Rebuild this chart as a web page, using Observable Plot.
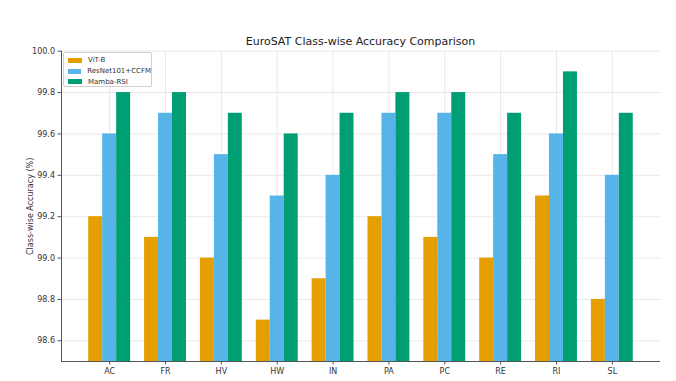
<!DOCTYPE html>
<html>
<head>
<meta charset="utf-8">
<script src="https://cdn.jsdelivr.net/npm/d3@7"></script>
<script src="https://cdn.jsdelivr.net/npm/@observablehq/plot@0.6"></script>
<style>
  html, body { margin: 0; padding: 0; background: #fff; }
  #wrap { position: relative; width: 676px; height: 381px; font-family: "DejaVu Sans", sans-serif; color: #222; }
  #title { box-sizing: border-box; height: 48px; padding-top: 35px; padding-left: 61px; width: 660px; text-align: center; font-size: 11px; line-height: 13px; white-space: nowrap; }
  #chart svg { overflow: visible; display: block; }
  #legend { position: absolute; left: 63px; top: 52px; width: 89px; height: 35px; box-sizing: border-box; border: 0.8px solid #d0d0d0; border-radius: 2px; background: rgba(255,255,255,0.85); padding: 2px 0 0 4px; font-size: 7px; color: #333; }
  .row { display: flex; align-items: center; height: 10.7px; }
  .sw { width: 14px; height: 5px; margin-right: 6px; }
</style>
</head>
<body>
<div id="wrap">
  <div id="title">EuroSAT Class-wise Accuracy Comparison</div>
  <div id="chart"></div>
  <div id="legend"></div>
</div>
<script>
const categories = ["AC", "FR", "HV", "HW", "IN", "PA", "PC", "RE", "RI", "SL"];
const seriesNames = ["ViT-B", "ResNet101+CCFM", "Mamba-RSI"];
const vitB   = [99.2, 99.1, 99.0, 98.7, 98.9, 99.2, 99.1, 99.0, 99.3, 98.8];
const resnet = [99.6, 99.7, 99.5, 99.3, 99.4, 99.7, 99.7, 99.5, 99.6, 99.4];
const mamba  = [99.8, 99.8, 99.7, 99.6, 99.7, 99.8, 99.8, 99.7, 99.9, 99.7];
const colors = ["#E69F00", "#56B4E9", "#009E73"];
const yTicks = [98.6, 98.8, 99.0, 99.2, 99.4, 99.6, 99.8, 100.0];

const seriesValues = [vitB, resnet, mamba];
const barW = 0.25;
const yMin = 98.5, yMax = 100.0;
const xMin = -0.8625, xMax = categories.length - 1 + 0.8625;

const rows = [];
categories.forEach((c, i) => {
  seriesNames.forEach((s, j) => {
    rows.push({i, cat: c, series: s, j, value: seriesValues[j][i]});
  });
});

const chart = Plot.plot({
  width: 676,
  height: 333,
  marginLeft: 61,
  marginRight: 16,
  marginTop: 2.7,
  marginBottom: 20,
  style: {fontFamily: "DejaVu Sans", fontSize: "8px", color: "#333", background: "white", overflow: "visible"},
  x: {domain: [xMin, xMax]},
  y: {domain: [yMin, yMax]},
  color: {domain: seriesNames, range: colors},
  marks: [
    Plot.gridY(yTicks, {stroke: "#e3e3e3", strokeOpacity: 1, strokeWidth: 0.8}),
    Plot.gridX(d3.range(categories.length), {stroke: "#e3e3e3", strokeOpacity: 1, strokeWidth: 0.8}),
    Plot.rectY(rows, {
      x1: d => d.i + (d.j - 1) * barW - barW / 2,
      x2: d => d.i + (d.j - 1) * barW + barW / 2,
      y1: d => yMin,
      y2: "value",
      fill: "series"
    }),
    Plot.ruleX([xMin], {stroke: "#555", strokeWidth: 1}),
    Plot.ruleY([yMin], {stroke: "#555", strokeWidth: 1}),
    Plot.axisX(d3.range(categories.length), {tickFormat: i => categories[i], tickSize: 3.5, tickPadding: 3, label: null, stroke: "#555"}),
    Plot.axisY(yTicks, {tickFormat: d => d.toFixed(1), tickSize: 3.5, tickPadding: 3, stroke: "#555",
      label: "Class-wise Accuracy (%)", labelAnchor: "center", labelArrow: "none", labelOffset: 34})
  ]
});
document.getElementById("chart").appendChild(chart);

const legend = document.getElementById("legend");
seriesNames.forEach((s, j) => {
  const r = document.createElement("div");
  r.className = "row";
  const sw = document.createElement("span");
  sw.className = "sw";
  sw.style.background = colors[j];
  const t = document.createElement("span");
  t.textContent = s;
  r.appendChild(sw);
  r.appendChild(t);
  legend.appendChild(r);
});
</script>
</body>
</html>
